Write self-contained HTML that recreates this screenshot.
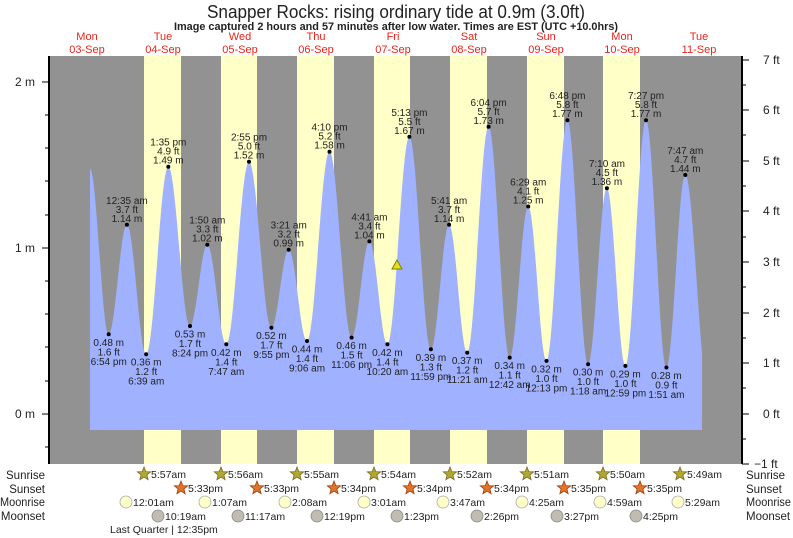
<!DOCTYPE html>
<html><head><meta charset="utf-8"><style>
html,body{margin:0;padding:0;background:#fff}
svg{display:block;font-family:"Liberation Sans",sans-serif}
.lb text{font-size:10px;fill:#222;text-anchor:middle}
.dl{font-size:11px;fill:#e8241c;text-anchor:middle}
.ax{font-size:12px;fill:#222}
.bt{font-size:10.5px;fill:#222}
.rl{font-size:11.5px;fill:#222}
</style></head><body>
<svg width="793" height="538" viewBox="0 0 793 538" xmlns="http://www.w3.org/2000/svg">
<defs>
<polygon id="st" points="0,-7 1.8,-2.4 6.7,-2.2 2.9,0.9 4.1,5.7 0,3 -4.1,5.7 -2.9,0.9 -6.7,-2.2 -1.8,-2.4"/>
</defs>
<text x="396" y="18" text-anchor="middle" font-size="18" fill="#222" textLength="378" lengthAdjust="spacingAndGlyphs">Snapper Rocks: rising  ordinary tide at 0.9m (3.0ft)</text>
<text x="396" y="30" text-anchor="middle" font-size="11" font-weight="bold" fill="#222" textLength="444" lengthAdjust="spacingAndGlyphs">Image captured 2 hours and 57 minutes after low water. Times are EST (UTC +10.0hrs)</text>
<g class="dl">
<text x="87" y="40">Mon</text><text x="87" y="53">03‑Sep</text>
<text x="163" y="40">Tue</text><text x="163" y="53">04‑Sep</text>
<text x="240" y="40">Wed</text><text x="240" y="53">05‑Sep</text>
<text x="316" y="40">Thu</text><text x="316" y="53">06‑Sep</text>
<text x="393" y="40">Fri</text><text x="393" y="53">07‑Sep</text>
<text x="469" y="40">Sat</text><text x="469" y="53">08‑Sep</text>
<text x="546" y="40">Sun</text><text x="546" y="53">09‑Sep</text>
<text x="622" y="40">Mon</text><text x="622" y="53">10‑Sep</text>
<text x="699" y="40">Tue</text><text x="699" y="53">11‑Sep</text>
</g>
<rect x="49" y="56" width="693" height="408" fill="#929292"/>
<g fill="#ffffc8">
<rect x="144" y="56" width="37" height="408"/><rect x="221" y="56" width="36" height="408"/>
<rect x="297" y="56" width="37" height="408"/><rect x="374" y="56" width="36" height="408"/>
<rect x="450" y="56" width="37" height="408"/><rect x="527" y="56" width="37" height="408"/>
<rect x="603" y="56" width="37" height="408"/>
</g>
<path fill="#9fb1ff" d="M90,430 L90,169
C96.8,169 101.9,334.3 108.7,334.3
C115.3,334.3 120.3,224.8 126.9,224.8
C133.9,224.8 139.2,354.2 146.2,354.2
C154.2,354.2 160.3,166.7 168.3,166.7
C176.2,166.7 182.1,326 190,326
C196.3,326 201,244.7 207.3,244.7
C214.2,244.7 219.4,344.3 226.3,344.3
C234.6,344.3 240.7,161.7 249,161.7
C257.2,161.7 263.2,327.7 271.4,327.7
C277.7,327.7 282.4,249.7 288.7,249.7
C295.4,249.7 300.3,341 307,341
C315.2,341 321.3,151.7 329.5,151.7
C337.5,151.7 343.6,337.6 351.6,337.6
C358.1,337.6 362.9,241.4 369.4,241.4
C376,241.4 380.8,344.3 387.4,344.3
C395.4,344.3 401.4,136.8 409.4,136.8
C417.2,136.8 423.1,349.3 430.9,349.3
C437.5,349.3 442.5,224.8 449.1,224.8
C455.7,224.8 460.6,352.6 467.2,352.6
C475,352.6 480.8,126.8 488.6,126.8
C496.3,126.8 502,357.6 509.7,357.6
C516.4,357.6 521.5,206.5 528.2,206.5
C534.9,206.5 539.8,360.9 546.5,360.9
C554.1,360.9 559.8,120.2 567.4,120.2
C574.9,120.2 580.6,364.2 588.1,364.2
C594.9,364.2 600.1,188.2 606.9,188.2
C613.6,188.2 618.7,365.9 625.4,365.9
C632.9,365.9 638.5,120.2 646,120.2
C653.4,120.2 659,367.5 666.4,367.5
C673.3,367.5 678.4,175 685.3,175
C691.5,175 697,300 702,352
L702,430 Z"/>
<g fill="#000">
<circle cx="108.7" cy="334.3" r="2"/><circle cx="126.9" cy="224.8" r="2"/><circle cx="146.2" cy="354.2" r="2"/><circle cx="168.3" cy="166.7" r="2"/>
<circle cx="190" cy="326" r="2"/><circle cx="207.3" cy="244.7" r="2"/><circle cx="226.3" cy="344.3" r="2"/><circle cx="249" cy="161.7" r="2"/>
<circle cx="271.4" cy="327.7" r="2"/><circle cx="288.7" cy="249.7" r="2"/><circle cx="307" cy="341" r="2"/><circle cx="329.5" cy="151.7" r="2"/>
<circle cx="351.6" cy="337.6" r="2"/><circle cx="369.4" cy="241.4" r="2"/><circle cx="387.4" cy="344.3" r="2"/><circle cx="409.4" cy="136.8" r="2"/>
<circle cx="430.9" cy="349.3" r="2"/><circle cx="449.1" cy="224.8" r="2"/><circle cx="467.2" cy="352.6" r="2"/><circle cx="488.6" cy="126.8" r="2"/>
<circle cx="509.7" cy="357.6" r="2"/><circle cx="528.2" cy="206.5" r="2"/><circle cx="546.5" cy="360.9" r="2"/><circle cx="567.4" cy="120.2" r="2"/>
<circle cx="588.1" cy="364.2" r="2"/><circle cx="606.9" cy="188.2" r="2"/><circle cx="625.4" cy="365.9" r="2"/><circle cx="646" cy="120.2" r="2"/>
<circle cx="666.4" cy="367.5" r="2"/><circle cx="685.3" cy="175" r="2"/>
</g>
<polygon points="392,269 397,260 402,269" fill="#e0e020" stroke="#808000" stroke-width="1"/>
<line x1="49" y1="56" x2="49" y2="464" stroke="#000" stroke-width="2"/>
<line x1="742" y1="56" x2="742" y2="464" stroke="#000" stroke-width="2"/>
<g stroke="#000" stroke-width="1">
<line x1="42" y1="82" x2="49" y2="82"/><line x1="42" y1="248" x2="49" y2="248"/><line x1="42" y1="414" x2="49" y2="414"/>
<line x1="45" y1="115" x2="49" y2="115"/><line x1="45" y1="148" x2="49" y2="148"/><line x1="45" y1="181" x2="49" y2="181"/><line x1="45" y1="215" x2="49" y2="215"/>
<line x1="45" y1="281" x2="49" y2="281"/><line x1="45" y1="314" x2="49" y2="314"/><line x1="45" y1="347" x2="49" y2="347"/><line x1="45" y1="381" x2="49" y2="381"/>
<line x1="45" y1="447" x2="49" y2="447"/>
<line x1="742" y1="60" x2="749" y2="60"/><line x1="742" y1="110" x2="749" y2="110"/><line x1="742" y1="161" x2="749" y2="161"/><line x1="742" y1="211" x2="749" y2="211"/>
<line x1="742" y1="262" x2="749" y2="262"/><line x1="742" y1="313" x2="749" y2="313"/><line x1="742" y1="363" x2="749" y2="363"/><line x1="742" y1="414" x2="749" y2="414"/><line x1="742" y1="464" x2="749" y2="464"/>
<line x1="742" y1="85" x2="746" y2="85"/><line x1="742" y1="135" x2="746" y2="135"/><line x1="742" y1="186" x2="746" y2="186"/><line x1="742" y1="237" x2="746" y2="237"/>
<line x1="742" y1="287" x2="746" y2="287"/><line x1="742" y1="338" x2="746" y2="338"/><line x1="742" y1="388" x2="746" y2="388"/><line x1="742" y1="439" x2="746" y2="439"/>
</g>
<g class="ax" text-anchor="end">
<text x="35" y="86">2 m</text><text x="35" y="252">1 m</text><text x="35" y="418">0 m</text>
</g>
<g class="ax">
<text x="763" y="64">7 ft</text><text x="763" y="114">6 ft</text><text x="763" y="165">5 ft</text><text x="763" y="215">4 ft</text>
<text x="763" y="266">3 ft</text><text x="763" y="317">2 ft</text><text x="763" y="367">1 ft</text><text x="763" y="418">0 ft</text><text x="754" y="468">−1 ft</text>
</g>
<g class="lb">
<g transform="translate(126.9,224.8)"><text y="-21">12:35 am</text><text y="-12">3.7 ft</text><text y="-3">1.14 m</text></g>
<g transform="translate(168.3,166.7)"><text y="-21">1:35 pm</text><text y="-12">4.9 ft</text><text y="-3">1.49 m</text></g>
<g transform="translate(207.3,244.7)"><text y="-21">1:50 am</text><text y="-12">3.3 ft</text><text y="-3">1.02 m</text></g>
<g transform="translate(249,161.7)"><text y="-21">2:55 pm</text><text y="-12">5.0 ft</text><text y="-3">1.52 m</text></g>
<g transform="translate(288.7,249.7)"><text y="-21">3:21 am</text><text y="-12">3.2 ft</text><text y="-3">0.99 m</text></g>
<g transform="translate(329.5,151.7)"><text y="-21">4:10 pm</text><text y="-12">5.2 ft</text><text y="-3">1.58 m</text></g>
<g transform="translate(369.4,241.4)"><text y="-21">4:41 am</text><text y="-12">3.4 ft</text><text y="-3">1.04 m</text></g>
<g transform="translate(409.4,136.8)"><text y="-21">5:13 pm</text><text y="-12">5.5 ft</text><text y="-3">1.67 m</text></g>
<g transform="translate(449.1,224.8)"><text y="-21">5:41 am</text><text y="-12">3.7 ft</text><text y="-3">1.14 m</text></g>
<g transform="translate(488.6,126.8)"><text y="-21">6:04 pm</text><text y="-12">5.7 ft</text><text y="-3">1.73 m</text></g>
<g transform="translate(528.2,206.5)"><text y="-21">6:29 am</text><text y="-12">4.1 ft</text><text y="-3">1.25 m</text></g>
<g transform="translate(567.4,120.2)"><text y="-21">6:48 pm</text><text y="-12">5.8 ft</text><text y="-3">1.77 m</text></g>
<g transform="translate(606.9,188.2)"><text y="-21">7:10 am</text><text y="-12">4.5 ft</text><text y="-3">1.36 m</text></g>
<g transform="translate(646,120.2)"><text y="-21">7:27 pm</text><text y="-12">5.8 ft</text><text y="-3">1.77 m</text></g>
<g transform="translate(685.3,175)"><text y="-21">7:47 am</text><text y="-12">4.7 ft</text><text y="-3">1.44 m</text></g>
<g transform="translate(108.7,334.3)"><text y="11.5">0.48 m</text><text y="21">1.6 ft</text><text y="30.5">6:54 pm</text></g>
<g transform="translate(146.2,354.2)"><text y="11.5">0.36 m</text><text y="21">1.2 ft</text><text y="30.5">6:39 am</text></g>
<g transform="translate(190,326)"><text y="11.5">0.53 m</text><text y="21">1.7 ft</text><text y="30.5">8:24 pm</text></g>
<g transform="translate(226.3,344.3)"><text y="11.5">0.42 m</text><text y="21">1.4 ft</text><text y="30.5">7:47 am</text></g>
<g transform="translate(271.4,327.7)"><text y="11.5">0.52 m</text><text y="21">1.7 ft</text><text y="30.5">9:55 pm</text></g>
<g transform="translate(307,341)"><text y="11.5">0.44 m</text><text y="21">1.4 ft</text><text y="30.5">9:06 am</text></g>
<g transform="translate(351.6,337.6)"><text y="11.5">0.46 m</text><text y="21">1.5 ft</text><text y="30.5">11:06 pm</text></g>
<g transform="translate(387.4,344.3)"><text y="11.5">0.42 m</text><text y="21">1.4 ft</text><text y="30.5">10:20 am</text></g>
<g transform="translate(430.9,349.3)"><text y="11.5">0.39 m</text><text y="21">1.3 ft</text><text y="30.5">11:59 pm</text></g>
<g transform="translate(467.2,352.6)"><text y="11.5">0.37 m</text><text y="21">1.2 ft</text><text y="30.5">11:21 am</text></g>
<g transform="translate(509.7,357.6)"><text y="11.5">0.34 m</text><text y="21">1.1 ft</text><text y="30.5">12:42 am</text></g>
<g transform="translate(546.5,360.9)"><text y="11.5">0.32 m</text><text y="21">1.0 ft</text><text y="30.5">12:13 pm</text></g>
<g transform="translate(588.1,364.2)"><text y="11.5">0.30 m</text><text y="21">1.0 ft</text><text y="30.5">1:18 am</text></g>
<g transform="translate(625.4,365.9)"><text y="11.5">0.29 m</text><text y="21">1.0 ft</text><text y="30.5">12:59 pm</text></g>
<g transform="translate(666.4,367.5)"><text y="11.5">0.28 m</text><text y="21">0.9 ft</text><text y="30.5">1:51 am</text></g>
</g>
<g class="rl" text-anchor="end">
<text x="45" y="479">Sunrise</text><text x="45" y="493">Sunset</text><text x="45" y="506" textLength="45" lengthAdjust="spacingAndGlyphs">Moonrise</text><text x="45" y="520">Moonset</text>
</g>
<g class="rl">
<text x="746" y="479">Sunrise</text><text x="746" y="493">Sunset</text><text x="746" y="506" textLength="45" lengthAdjust="spacingAndGlyphs">Moonrise</text><text x="746" y="520">Moonset</text>
</g>
<g fill="#b0a832" stroke="#7a6a20" stroke-width="0.8">
<use href="#st" x="144" y="474"/><use href="#st" x="221" y="474"/><use href="#st" x="297" y="474"/><use href="#st" x="374" y="474"/>
<use href="#st" x="450" y="474"/><use href="#st" x="527" y="474"/><use href="#st" x="603" y="474"/><use href="#st" x="680" y="474"/>
</g>
<g fill="#e0742a" stroke="#a04010" stroke-width="0.8">
<use href="#st" x="181" y="488"/><use href="#st" x="257" y="488"/><use href="#st" x="334" y="488"/><use href="#st" x="410" y="488"/>
<use href="#st" x="487" y="488"/><use href="#st" x="564" y="488"/><use href="#st" x="640" y="488"/>
</g>
<g fill="#ffffc8" stroke="#aaa" stroke-width="0.8">
<circle cx="126" cy="502" r="6"/><circle cx="205" cy="502" r="6"/><circle cx="285" cy="502" r="6"/><circle cx="364" cy="502" r="6"/>
<circle cx="443" cy="502" r="6"/><circle cx="522" cy="502" r="6"/><circle cx="600" cy="502" r="6"/><circle cx="678" cy="502" r="6"/>
</g>
<g fill="#c0bdb0" stroke="#888" stroke-width="0.8">
<circle cx="158" cy="516" r="6"/><circle cx="238" cy="516" r="6"/><circle cx="317" cy="516" r="6"/><circle cx="397" cy="516" r="6"/>
<circle cx="477" cy="516" r="6"/><circle cx="557" cy="516" r="6"/><circle cx="636" cy="516" r="6"/>
</g>
<g class="bt">
<text x="151" y="478">5:57am</text><text x="228" y="478">5:56am</text><text x="304" y="478">5:55am</text><text x="381" y="478">5:54am</text>
<text x="457" y="478">5:52am</text><text x="534" y="478">5:51am</text><text x="610" y="478">5:50am</text><text x="687" y="478">5:49am</text>
<text x="188" y="492">5:33pm</text><text x="264" y="492">5:33pm</text><text x="341" y="492">5:34pm</text><text x="417" y="492">5:34pm</text>
<text x="494" y="492">5:34pm</text><text x="571" y="492">5:35pm</text><text x="647" y="492">5:35pm</text>
<text x="133" y="506">12:01am</text><text x="212" y="506">1:07am</text><text x="292" y="506">2:08am</text><text x="371" y="506">3:01am</text>
<text x="450" y="506">3:47am</text><text x="529" y="506">4:25am</text><text x="607" y="506">4:59am</text><text x="685" y="506">5:29am</text>
<text x="165" y="520">10:19am</text><text x="245" y="520">11:17am</text><text x="324" y="520">12:19pm</text><text x="404" y="520">1:23pm</text>
<text x="484" y="520">2:26pm</text><text x="564" y="520">3:27pm</text><text x="643" y="520">4:25pm</text>
<text x="110" y="533">Last Quarter | 12:35pm</text>
</g>
</svg>
</body></html>
